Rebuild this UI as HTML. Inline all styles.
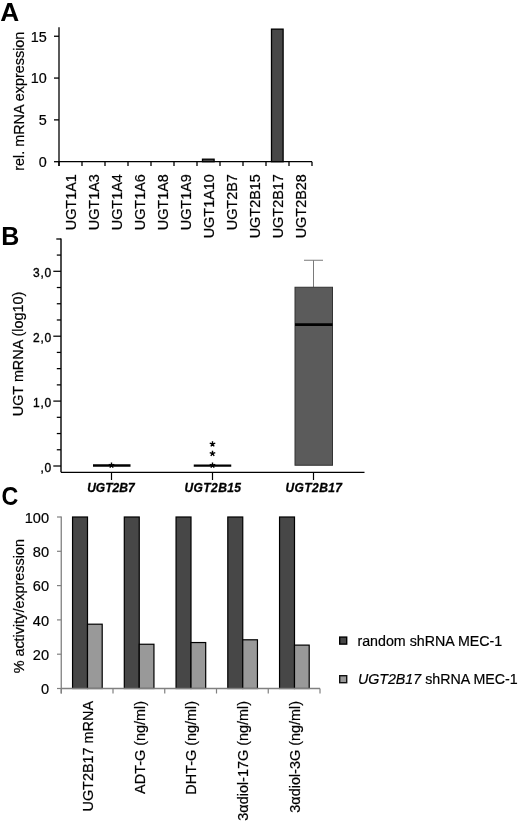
<!DOCTYPE html>
<html><head><meta charset="utf-8"><title>Figure</title>
<style>
html,body{margin:0;padding:0;background:#fff;}
body{width:520px;height:823px;overflow:hidden;}
svg{display:block;font-family:"Liberation Sans", sans-serif;will-change:transform;}
</style></head>
<body>
<svg width="520" height="823" viewBox="0 0 520 823" font-family='"Liberation Sans", sans-serif'>
<text transform="translate(0.20 20.60) scale(1.05 1.0)" font-size="25" font-weight="bold">A</text>
<line x1="59.00" y1="27.30" x2="59.00" y2="166.00" stroke="#000" stroke-width="1.3"/>
<line x1="59.00" y1="161.70" x2="312.00" y2="161.70" stroke="#000" stroke-width="1.3"/>
<line x1="54.00" y1="161.70" x2="59.00" y2="161.70" stroke="#000" stroke-width="1.3"/>
<text transform="translate(46.80 167.10)" font-size="14.4" text-anchor="end" stroke="#000" stroke-width="0.2">0</text>
<line x1="54.00" y1="119.88" x2="59.00" y2="119.88" stroke="#000" stroke-width="1.3"/>
<text transform="translate(46.80 125.28)" font-size="14.4" text-anchor="end" stroke="#000" stroke-width="0.2">5</text>
<line x1="54.00" y1="78.07" x2="59.00" y2="78.07" stroke="#000" stroke-width="1.3"/>
<text transform="translate(46.80 83.47)" font-size="14.4" text-anchor="end" stroke="#000" stroke-width="0.2">10</text>
<line x1="54.00" y1="36.25" x2="59.00" y2="36.25" stroke="#000" stroke-width="1.3"/>
<text transform="translate(46.80 41.65)" font-size="14.4" text-anchor="end" stroke="#000" stroke-width="0.2">15</text>
<line x1="59.00" y1="161.70" x2="59.00" y2="166.00" stroke="#000" stroke-width="1.3"/>
<line x1="82.00" y1="161.70" x2="82.00" y2="166.00" stroke="#000" stroke-width="1.3"/>
<line x1="105.00" y1="161.70" x2="105.00" y2="166.00" stroke="#000" stroke-width="1.3"/>
<line x1="128.00" y1="161.70" x2="128.00" y2="166.00" stroke="#000" stroke-width="1.3"/>
<line x1="151.00" y1="161.70" x2="151.00" y2="166.00" stroke="#000" stroke-width="1.3"/>
<line x1="174.00" y1="161.70" x2="174.00" y2="166.00" stroke="#000" stroke-width="1.3"/>
<line x1="197.00" y1="161.70" x2="197.00" y2="166.00" stroke="#000" stroke-width="1.3"/>
<line x1="220.00" y1="161.70" x2="220.00" y2="166.00" stroke="#000" stroke-width="1.3"/>
<line x1="243.00" y1="161.70" x2="243.00" y2="166.00" stroke="#000" stroke-width="1.3"/>
<line x1="266.00" y1="161.70" x2="266.00" y2="166.00" stroke="#000" stroke-width="1.3"/>
<line x1="289.00" y1="161.70" x2="289.00" y2="166.00" stroke="#000" stroke-width="1.3"/>
<line x1="312.00" y1="161.70" x2="312.00" y2="166.00" stroke="#000" stroke-width="1.3"/>
<text transform="translate(76.00 174.20) scale(1.0 1.03) rotate(-90)" font-size="14" text-anchor="end" stroke="#000" stroke-width="0.2">UGT1A1</text>
<text transform="translate(99.00 174.20) scale(1.0 1.03) rotate(-90)" font-size="14" text-anchor="end" stroke="#000" stroke-width="0.2">UGT1A3</text>
<text transform="translate(122.00 174.20) scale(1.0 1.03) rotate(-90)" font-size="14" text-anchor="end" stroke="#000" stroke-width="0.2">UGT1A4</text>
<text transform="translate(145.00 174.20) scale(1.0 1.03) rotate(-90)" font-size="14" text-anchor="end" stroke="#000" stroke-width="0.2">UGT1A6</text>
<text transform="translate(168.00 174.20) scale(1.0 1.03) rotate(-90)" font-size="14" text-anchor="end" stroke="#000" stroke-width="0.2">UGT1A8</text>
<text transform="translate(191.00 174.20) scale(1.0 1.03) rotate(-90)" font-size="14" text-anchor="end" stroke="#000" stroke-width="0.2">UGT1A9</text>
<text transform="translate(214.00 174.20) scale(1.0 1.03) rotate(-90)" font-size="14" text-anchor="end" stroke="#000" stroke-width="0.2">UGT1A10</text>
<text transform="translate(237.00 174.20) scale(1.0 1.03) rotate(-90)" font-size="14" text-anchor="end" stroke="#000" stroke-width="0.2">UGT2B7</text>
<text transform="translate(260.00 174.20) scale(1.0 1.03) rotate(-90)" font-size="14" text-anchor="end" stroke="#000" stroke-width="0.2">UGT2B15</text>
<text transform="translate(283.00 174.20) scale(1.0 1.03) rotate(-90)" font-size="14" text-anchor="end" stroke="#000" stroke-width="0.2">UGT2B17</text>
<text transform="translate(306.00 174.20) scale(1.0 1.03) rotate(-90)" font-size="14" text-anchor="end" stroke="#000" stroke-width="0.2">UGT2B28</text>
<rect x="202.50" y="159.19" width="11.60" height="2.51" fill="#474747" stroke="#000" stroke-width="1.3"/>
<rect x="271.50" y="29.14" width="11.60" height="132.56" fill="#474747" stroke="#000" stroke-width="1.3"/>
<text transform="translate(23.60 101.20) scale(1.0 1.05) rotate(-90)" font-size="13.714285714285714" text-anchor="middle" stroke="#000" stroke-width="0.2">rel. mRNA expression</text>
<text transform="translate(1.20 244.80)" font-size="25" font-weight="bold">B</text>
<line x1="61.00" y1="238.40" x2="61.00" y2="472.30" stroke="#000" stroke-width="1.4"/>
<line x1="56.30" y1="239.00" x2="61.00" y2="239.00" stroke="#000" stroke-width="1.3"/>
<line x1="53.30" y1="466.00" x2="61.00" y2="466.00" stroke="#000" stroke-width="1.25"/>
<line x1="56.80" y1="449.77" x2="61.00" y2="449.77" stroke="#000" stroke-width="1.25"/>
<line x1="56.80" y1="433.55" x2="61.00" y2="433.55" stroke="#000" stroke-width="1.25"/>
<line x1="56.80" y1="417.32" x2="61.00" y2="417.32" stroke="#000" stroke-width="1.25"/>
<line x1="53.30" y1="401.10" x2="61.00" y2="401.10" stroke="#000" stroke-width="1.25"/>
<line x1="56.80" y1="384.88" x2="61.00" y2="384.88" stroke="#000" stroke-width="1.25"/>
<line x1="56.80" y1="368.65" x2="61.00" y2="368.65" stroke="#000" stroke-width="1.25"/>
<line x1="56.80" y1="352.42" x2="61.00" y2="352.42" stroke="#000" stroke-width="1.25"/>
<line x1="53.30" y1="336.20" x2="61.00" y2="336.20" stroke="#000" stroke-width="1.25"/>
<line x1="56.80" y1="319.98" x2="61.00" y2="319.98" stroke="#000" stroke-width="1.25"/>
<line x1="56.80" y1="303.75" x2="61.00" y2="303.75" stroke="#000" stroke-width="1.25"/>
<line x1="56.80" y1="287.52" x2="61.00" y2="287.52" stroke="#000" stroke-width="1.25"/>
<line x1="53.30" y1="271.30" x2="61.00" y2="271.30" stroke="#000" stroke-width="1.25"/>
<line x1="56.80" y1="255.07" x2="61.00" y2="255.07" stroke="#000" stroke-width="1.25"/>
<text transform="translate(52.00 471.90)" font-size="12" text-anchor="end" stroke="#000" stroke-width="0.35" letter-spacing="0.8">,0</text>
<text transform="translate(52.00 407.00)" font-size="12" text-anchor="end" stroke="#000" stroke-width="0.35" letter-spacing="0.8">1,0</text>
<text transform="translate(52.00 342.10)" font-size="12" text-anchor="end" stroke="#000" stroke-width="0.35" letter-spacing="0.8">2,0</text>
<text transform="translate(52.00 277.20)" font-size="12" text-anchor="end" stroke="#000" stroke-width="0.35" letter-spacing="0.8">3,0</text>
<line x1="61.00" y1="472.30" x2="364.50" y2="472.30" stroke="#000" stroke-width="1.2"/>
<line x1="111.50" y1="472.30" x2="111.50" y2="480.00" stroke="#000" stroke-width="1.2"/>
<text x="110.9" y="491.5" font-size="12" text-anchor="middle" font-weight="bold" font-style="italic" textLength="47.5" lengthAdjust="spacing" stroke="#000" stroke-width="0.3">UGT2B7</text>
<line x1="212.50" y1="472.30" x2="212.50" y2="480.00" stroke="#000" stroke-width="1.2"/>
<text x="212.8" y="491.5" font-size="12" text-anchor="middle" font-weight="bold" font-style="italic" textLength="56.5" lengthAdjust="spacing" stroke="#000" stroke-width="0.3">UGT2B15</text>
<line x1="313.50" y1="472.30" x2="313.50" y2="480.00" stroke="#000" stroke-width="1.2"/>
<text x="313.8" y="491.5" font-size="12" text-anchor="middle" font-weight="bold" font-style="italic" textLength="56.5" lengthAdjust="spacing" stroke="#000" stroke-width="0.3">UGT2B17</text>
<line x1="93.00" y1="465.50" x2="130.50" y2="465.50" stroke="#000" stroke-width="2.4"/>
<line x1="193.75" y1="465.60" x2="231.25" y2="465.60" stroke="#000" stroke-width="2.4"/>
<path d="M111.50 465.30L111.50 462.40M111.50 465.30L114.26 464.40M111.50 465.30L113.20 467.65M111.50 465.30L109.80 467.65M111.50 465.30L108.74 464.40" stroke="#000" stroke-width="1.4" fill="none"/>
<path d="M212.50 465.30L212.50 462.40M212.50 465.30L215.26 464.40M212.50 465.30L214.20 467.65M212.50 465.30L210.80 467.65M212.50 465.30L209.74 464.40" stroke="#000" stroke-width="1.4" fill="none"/>
<path d="M212.50 444.10L212.50 441.20M212.50 444.10L215.26 443.20M212.50 444.10L214.20 446.45M212.50 444.10L210.80 446.45M212.50 444.10L209.74 443.20" stroke="#000" stroke-width="1.4" fill="none"/>
<path d="M212.50 453.60L212.50 450.70M212.50 453.60L215.26 452.70M212.50 453.60L214.20 455.95M212.50 453.60L210.80 455.95M212.50 453.60L209.74 452.70" stroke="#000" stroke-width="1.4" fill="none"/>
<line x1="313.50" y1="260.25" x2="313.50" y2="287.25" stroke="#7a7a7a" stroke-width="1"/>
<line x1="304.00" y1="260.25" x2="323.00" y2="260.25" stroke="#7a7a7a" stroke-width="1"/>
<rect x="295.00" y="287.25" width="37.50" height="178.00" fill="#5b5b5b" stroke="#333" stroke-width="1"/>
<line x1="295.00" y1="324.60" x2="332.50" y2="324.60" stroke="#000" stroke-width="2.6"/>
<text transform="translate(23.30 354.00) scale(1.0 1.05) rotate(-90)" font-size="13.714285714285714" text-anchor="middle" stroke="#000" stroke-width="0.2">UGT mRNA (log10)</text>
<text transform="translate(1.40 504.50) scale(0.93 1.0)" font-size="25" font-weight="bold">C</text>
<rect x="72.55" y="517.00" width="14.95" height="171.50" fill="#474747" stroke="#000" stroke-width="1.2"/>
<rect x="87.50" y="624.19" width="14.70" height="64.31" fill="#999999" stroke="#000" stroke-width="1.2"/>
<text transform="translate(92.92 701.00) scale(1.0 1.03) rotate(-90)" font-size="14" text-anchor="end" stroke="#000" stroke-width="0.2">UGT2B17 mRNA</text>
<rect x="124.30" y="517.00" width="14.95" height="171.50" fill="#474747" stroke="#000" stroke-width="1.2"/>
<rect x="139.25" y="644.25" width="14.70" height="44.25" fill="#999999" stroke="#000" stroke-width="1.2"/>
<text transform="translate(144.68 701.00) scale(1.0 1.03) rotate(-90)" font-size="14" text-anchor="end" stroke="#000" stroke-width="0.2">ADT-G (ng/ml)</text>
<rect x="176.05" y="517.00" width="14.95" height="171.50" fill="#474747" stroke="#000" stroke-width="1.2"/>
<rect x="191.00" y="642.54" width="14.70" height="45.96" fill="#999999" stroke="#000" stroke-width="1.2"/>
<text transform="translate(196.43 701.00) scale(1.0 1.03) rotate(-90)" font-size="14" text-anchor="end" stroke="#000" stroke-width="0.2">DHT-G (ng/ml)</text>
<rect x="227.80" y="517.00" width="14.95" height="171.50" fill="#474747" stroke="#000" stroke-width="1.2"/>
<rect x="242.75" y="639.79" width="14.70" height="48.71" fill="#999999" stroke="#000" stroke-width="1.2"/>
<text transform="translate(248.18 701.00) scale(1.0 1.03) rotate(-90)" font-size="14" text-anchor="end" stroke="#000" stroke-width="0.2">3&#945;diol-17G (ng/ml)</text>
<rect x="279.55" y="517.00" width="14.95" height="171.50" fill="#474747" stroke="#000" stroke-width="1.2"/>
<rect x="294.50" y="645.11" width="14.70" height="43.39" fill="#999999" stroke="#000" stroke-width="1.2"/>
<text transform="translate(299.93 701.00) scale(1.0 1.03) rotate(-90)" font-size="14" text-anchor="end" stroke="#000" stroke-width="0.2">3&#945;diol-3G (ng/ml)</text>
<line x1="61.25" y1="516.50" x2="61.25" y2="693.50" stroke="#808080" stroke-width="1.3"/>
<line x1="61.25" y1="688.50" x2="320.00" y2="688.50" stroke="#808080" stroke-width="1.4"/>
<line x1="57.00" y1="688.50" x2="61.25" y2="688.50" stroke="#808080" stroke-width="1.2"/>
<text transform="translate(49.10 694.20)" font-size="14.6" text-anchor="end" stroke="#000" stroke-width="0.2">0</text>
<line x1="57.00" y1="654.20" x2="61.25" y2="654.20" stroke="#808080" stroke-width="1.2"/>
<text transform="translate(49.10 659.90)" font-size="14.6" text-anchor="end" stroke="#000" stroke-width="0.2">20</text>
<line x1="57.00" y1="619.90" x2="61.25" y2="619.90" stroke="#808080" stroke-width="1.2"/>
<text transform="translate(49.10 625.60)" font-size="14.6" text-anchor="end" stroke="#000" stroke-width="0.2">40</text>
<line x1="57.00" y1="585.60" x2="61.25" y2="585.60" stroke="#808080" stroke-width="1.2"/>
<text transform="translate(49.10 591.30)" font-size="14.6" text-anchor="end" stroke="#000" stroke-width="0.2">60</text>
<line x1="57.00" y1="551.30" x2="61.25" y2="551.30" stroke="#808080" stroke-width="1.2"/>
<text transform="translate(49.10 557.00)" font-size="14.6" text-anchor="end" stroke="#000" stroke-width="0.2">80</text>
<line x1="57.00" y1="517.00" x2="61.25" y2="517.00" stroke="#808080" stroke-width="1.2"/>
<text transform="translate(49.10 522.70)" font-size="14.6" text-anchor="end" stroke="#000" stroke-width="0.2">100</text>
<line x1="61.25" y1="688.50" x2="61.25" y2="693.50" stroke="#808080" stroke-width="1.2"/>
<line x1="113.00" y1="688.50" x2="113.00" y2="693.50" stroke="#808080" stroke-width="1.2"/>
<line x1="164.75" y1="688.50" x2="164.75" y2="693.50" stroke="#808080" stroke-width="1.2"/>
<line x1="216.50" y1="688.50" x2="216.50" y2="693.50" stroke="#808080" stroke-width="1.2"/>
<line x1="268.25" y1="688.50" x2="268.25" y2="693.50" stroke="#808080" stroke-width="1.2"/>
<line x1="320.00" y1="688.50" x2="320.00" y2="693.50" stroke="#808080" stroke-width="1.2"/>
<text transform="translate(23.50 606.20) scale(1.0 1.05) rotate(-90)" font-size="13.714285714285714" text-anchor="middle" stroke="#000" stroke-width="0.2">% activity/expression</text>
<rect x="339.70" y="637.10" width="7.00" height="7.00" fill="#474747" stroke="#000" stroke-width="1.4"/>
<rect x="339.70" y="675.70" width="7.00" height="7.00" fill="#9a9a9a" stroke="#111" stroke-width="1.4"/>
<text transform="translate(357.40 646.10) scale(1.0 1.03)" font-size="14.25" stroke="#000" stroke-width="0.2">random shRNA MEC-1</text>
<text transform="translate(357.90 684.20) scale(1.0 1.03)" font-size="14.25" stroke="#000" stroke-width="0.2"><tspan font-style="italic">UGT2B17</tspan> shRNA MEC-1</text>
</svg>
</body></html>
